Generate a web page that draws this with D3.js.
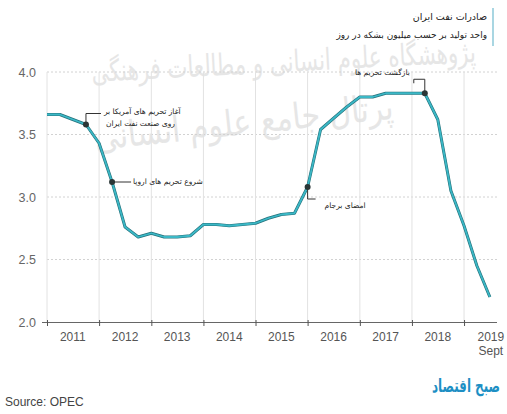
<!DOCTYPE html>
<html>
<head>
<meta charset="utf-8">
<script src="https://cdn.jsdelivr.net/npm/d3@7"></script>
<style>
  body { margin: 0; background: #fff; }
  svg { display: block; }
  .fa { font-family: "DejaVu Sans", sans-serif; }
  .lat { font-family: "Liberation Sans", Arial, sans-serif; }
</style>
</head>
<body>
<script>
// Iran oil exports, million barrels per day, one value per quarter (2011 Q1 .. 2019 Q3)
const startYear = 2011;
const exportValues = [
  3.66, 3.66, 3.62, 3.58,   // 2011
  3.43, 3.12, 2.76, 2.68,   // 2012
  2.71, 2.68, 2.68, 2.69,   // 2013
  2.78, 2.78, 2.77, 2.78,   // 2014
  2.79, 2.83, 2.86, 2.87,   // 2015
  3.08, 3.54, 3.63, 3.72,   // 2016
  3.80, 3.80, 3.83, 3.83,   // 2017
  3.83, 3.83, 3.62, 3.05,   // 2018
  2.77, 2.45, 2.20          // 2019
];
const yearLabels = ["2011", "2012", "2013", "2014", "2015", "2016", "2017", "2018", "2019"];
const yTicks = [2.0, 2.5, 3.0, 3.5, 4.0];

// events marked on the line (quarter index into exportValues)
const eventQuarters = [3, 5, 20, 29];
const eventTexts = [
  ["آغاز تحریم های آمریکا بر", "روی صنعت نفت ایران"],
  ["شروع تحریم های اروپا"],
  ["امضای برجام"],
  ["بازگشت تحریم ها"]
];

const title = "صادرات نفت ایران";
const subtitle = "واحد تولید بر حسب میلیون بشکه در روز";
const source = "Source: OPEC";
const watermarks = ["پژوهشگاه علوم انسانی و مطالعات فرهنگی", "پرتال جامع علوم انسانی"];
const logo = "صبح اقتصاد";

const width = 507, height = 414;
const svg = d3.select("body").append("svg")
  .attr("width", width)
  .attr("height", height);

const quarterDate = i => new Date(startYear, i * 3, 1);
const data = exportValues.map((v, i) => ({ date: quarterDate(i), value: v }));

const x = d3.scaleTime()
  .domain([new Date(2011, 0, 1), new Date(2019, 7, 20)])
  .range([47, 497]);
const y = d3.scaleLinear()
  .domain([2, 4])
  .range([322, 72]);

// squeeze a text horizontally so it spans `w` pixels
function fitText(sel, tx, ty, angle, w) {
  const natural = sel.node().getComputedTextLength();
  sel.attr("transform", `translate(${tx},${ty}) rotate(${angle}) scale(${w / natural},1)`);
}

// watermark, faint, behind everything
const wm = svg.append("g").attr("class", "fa").attr("fill", "#e6e6e6");
fitText(wm.append("text").attr("font-size", 30).text(watermarks[0]), 92, 82, -3, 385);
fitText(wm.append("text").attr("font-size", 36).text(watermarks[1]), 96, 150, -6, 300);

// title block
svg.append("line")
  .attr("x1", 493).attr("x2", 493)
  .attr("y1", 8).attr("y2", 46)
  .attr("stroke", "#8cc8d8")
  .attr("stroke-width", 1.5);
svg.append("text")
  .attr("class", "fa")
  .attr("x", 487).attr("y", 20)
  .attr("text-anchor", "end")
  .attr("font-size", 9.5)
  .attr("fill", "#222")
  .text(title);
svg.append("text")
  .attr("class", "fa")
  .attr("x", 487).attr("y", 38)
  .attr("text-anchor", "end")
  .attr("font-size", 9)
  .attr("fill", "#222")
  .text(subtitle);

// horizontal grid (dashed)
svg.append("g")
  .selectAll("line")
  .data(yTicks.slice(1))
  .enter()
  .append("line")
  .attr("x1", 47).attr("x2", 498)
  .attr("y1", d => y(d)).attr("y2", d => y(d))
  .attr("stroke", "#d2d2d2")
  .attr("stroke-dasharray", "2,2");

// vertical grid at year starts
const yearStarts = yearLabels.map(t => new Date(+t, 0, 1));
svg.append("g")
  .selectAll("line")
  .data(yearStarts)
  .enter()
  .append("line")
  .attr("x1", d => x(d)).attr("x2", d => x(d))
  .attr("y1", y(4)).attr("y2", y(2))
  .attr("stroke", "#e2e2e2");

// y labels
svg.append("g")
  .attr("class", "lat")
  .selectAll("text")
  .data(yTicks)
  .enter()
  .append("text")
  .attr("x", 36)
  .attr("y", d => y(d) + 4.5)
  .attr("text-anchor", "end")
  .attr("font-size", 12.5)
  .attr("fill", "#666")
  .text(d => d.toFixed(1));

// x axis
const xAxis = d3.axisBottom(x)
  .tickValues(yearStarts)
  .tickSize(4)
  .tickSizeOuter(0)
  .tickFormat("");
const gx = svg.append("g")
  .attr("transform", "translate(0," + y(2) + ")")
  .call(xAxis);
gx.select(".domain").attr("stroke", "#666").attr("d", "M42,0.5H497");
gx.selectAll(".tick line").attr("stroke", "#555").attr("y1", -2);

// year labels centred in each year, last one under its own tick
svg.append("g")
  .attr("class", "lat")
  .selectAll("text")
  .data(yearLabels)
  .enter()
  .append("text")
  .attr("x", (d, i) => i < yearLabels.length - 1
    ? x(new Date(+d, 6, 1))
    : x(new Date(+d, 6, 1)) + 1)
  .attr("y", 341)
  .attr("text-anchor", "middle")
  .attr("font-size", 12)
  .attr("fill", "#555")
  .text(d => d);
svg.append("text")
  .attr("class", "lat")
  .attr("x", x(new Date(2019, 6, 1)) + 1)
  .attr("y", 355)
  .attr("text-anchor", "middle")
  .attr("font-size", 12)
  .attr("fill", "#555")
  .text("Sept");

// the line
const line = d3.line()
  .x(d => x(d.date))
  .y(d => y(d.value));
svg.append("path")
  .datum(data)
  .attr("fill", "none")
  .attr("stroke", "#24707a")
  .attr("stroke-width", 3)
  .attr("stroke-linejoin", "round")
  .attr("d", line);
svg.append("path")
  .datum(data)
  .attr("fill", "none")
  .attr("stroke", "#3bb8c6")
  .attr("stroke-width", 1.8)
  .attr("stroke-linejoin", "round")
  .attr("d", line);

// event callouts
const ev = eventQuarters.map(i => ({ cx: x(data[i].date), cy: y(data[i].value) }));
const lead = svg.append("g")
  .attr("fill", "none")
  .attr("stroke", "#333")
  .attr("stroke-width", 1);
const notes = svg.append("g")
  .attr("class", "fa")
  .attr("font-size", 7.5)
  .attr("fill", "#222");

// US sanctions: up then right
lead.append("path").attr("d", `M${ev[0].cx},${ev[0].cy}V${ev[0].cy - 11}H${ev[0].cx + 15}`);
notes.append("text").attr("x", ev[0].cx + 18).attr("y", ev[0].cy - 11)
  .attr("text-anchor", "start").text(eventTexts[0][0]);
notes.append("text").attr("x", ev[0].cx + 20).attr("y", ev[0].cy + 1)
  .attr("text-anchor", "start").text(eventTexts[0][1]);

// EU sanctions: right
lead.append("path").attr("d", `M${ev[1].cx},${ev[1].cy}H${ev[1].cx + 19}`);
notes.append("text").attr("x", ev[1].cx + 21).attr("y", ev[1].cy + 2)
  .attr("text-anchor", "start").text(eventTexts[1][0]);

// JCPOA: down then right
lead.append("path").attr("d", `M${ev[2].cx},${ev[2].cy}V${ev[2].cy + 12}H${ev[2].cx + 8}`);
notes.append("text").attr("x", ev[2].cx + 17).attr("y", ev[2].cy + 21)
  .attr("text-anchor", "start").text(eventTexts[2][0]);

// sanctions return: up then left
lead.append("path").attr("d", `M${ev[3].cx},${ev[3].cy}V${ev[3].cy - 14}H${ev[3].cx - 11}V${ev[3].cy - 10}`);
notes.append("text").attr("x", ev[3].cx - 15).attr("y", ev[3].cy - 18)
  .attr("text-anchor", "end").text(eventTexts[3][0]);

svg.append("g")
  .selectAll("circle")
  .data(ev)
  .enter()
  .append("circle")
  .attr("cx", d => d.cx)
  .attr("cy", d => d.cy)
  .attr("r", 3)
  .attr("fill", "#2a3636");

// source and logo
svg.append("text")
  .attr("class", "lat")
  .attr("x", 5).attr("y", 406)
  .attr("font-size", 12)
  .attr("fill", "#444")
  .text(source);
fitText(svg.append("text")
  .attr("class", "fa")
  .attr("font-size", 18)
  .attr("font-weight", "bold")
  .attr("fill", "#1d8fc4")
  .text(logo), 432, 392, 0, 68);
</script>
</body>
</html>
